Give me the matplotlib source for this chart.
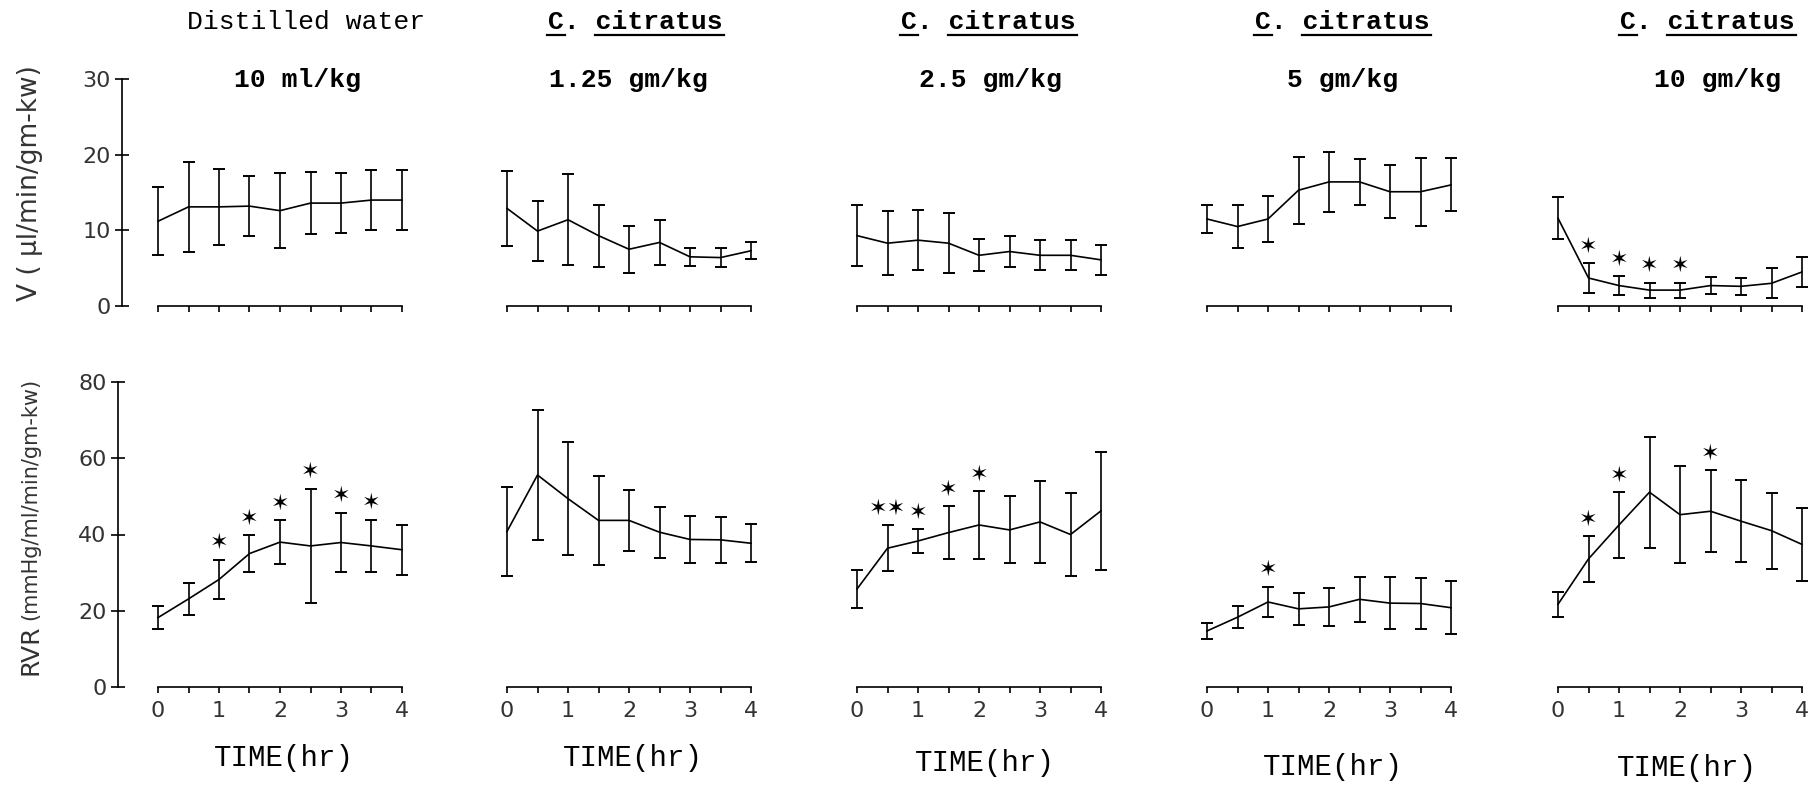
import matplotlib.pyplot as plt
from matplotlib.lines import Line2D

# sampling times (hr)
time_hr = [0, 0.5, 1, 1.5, 2, 2.5, 3, 3.5, 4]

groups = ['Distilled water', 'C. citratus', 'C. citratus', 'C. citratus', 'C. citratus']
doses = ['10 ml/kg', '1.25 gm/kg', '2.5 gm/kg', '5 gm/kg', '10 gm/kg']

# urine flow V (ul/min/gm-kw), mean and SEM
v_water = [11.2, 13.1, 13.1, 13.2, 12.6, 13.6, 13.6, 14.0, 14.0]
v_water_sem = [4.5, 5.9, 5.0, 4.0, 5.0, 4.1, 4.0, 4.0, 4.0]
v_cc125 = [12.9, 9.9, 11.4, 9.3, 7.5, 8.4, 6.5, 6.4, 7.3]
v_cc125_sem = [5.0, 4.0, 6.0, 4.1, 3.1, 3.0, 1.2, 1.2, 1.1]
v_cc25 = [9.3, 8.3, 8.7, 8.3, 6.7, 7.2, 6.7, 6.7, 6.1]
v_cc25_sem = [4.0, 4.2, 4.0, 4.0, 2.1, 2.0, 2.0, 2.0, 2.0]
v_cc5 = [11.5, 10.5, 11.5, 15.3, 16.4, 16.4, 15.1, 15.1, 16.0]
v_cc5_sem = [1.9, 2.9, 3.1, 4.4, 4.0, 3.0, 3.5, 4.5, 3.5]
v_cc10 = [11.6, 3.7, 2.7, 2.1, 2.1, 2.7, 2.6, 3.0, 4.5]
v_cc10_sem = [2.8, 2.0, 1.2, 1.0, 1.0, 1.1, 1.1, 2.0, 2.0]

# renal vascular resistance RVR, mean and SEM
rvr_water = [18.2, 23.1, 28.2, 35.0, 38.0, 37.0, 37.9, 37.0, 36.0]
rvr_water_sem = [3.1, 4.2, 5.2, 4.9, 5.8, 15.0, 7.8, 6.9, 6.5]
rvr_cc125 = [40.8, 55.6, 49.4, 43.7, 43.7, 40.6, 38.7, 38.6, 37.7]
rvr_cc125_sem = [11.7, 17.0, 14.9, 11.7, 8.0, 6.7, 6.2, 6.0, 5.0]
rvr_cc25 = [25.7, 36.4, 38.3, 40.5, 42.5, 41.2, 43.3, 40.0, 46.2]
rvr_cc25_sem = [5.0, 6.0, 3.1, 7.0, 8.9, 8.8, 10.7, 11.0, 15.5]
rvr_cc5 = [14.7, 18.3, 22.3, 20.5, 21.0, 23.0, 22.0, 21.9, 20.8]
rvr_cc5_sem = [2.2, 2.9, 4.0, 4.2, 5.0, 5.9, 6.8, 6.6, 7.0]
rvr_cc10 = [21.7, 33.6, 42.5, 51.1, 45.2, 46.1, 43.5, 41.0, 37.4]
rvr_cc10_sem = [3.3, 6.0, 8.6, 14.6, 12.8, 10.8, 10.8, 10.0, 9.6]

# significance marks at each time point
v_sig_cc10 = ['', '*', '*', '*', '*', '', '', '', '']
rvr_sig_water = ['', '', '*', '*', '*', '*', '*', '*', '']
rvr_sig_cc25 = ['', '**', '*', '*', '*', '', '', '', '']
rvr_sig_cc5 = ['', '', '*', '', '', '', '', '', '']
rvr_sig_cc10 = ['', '*', '*', '', '', '*', '', '', '']
no_sig = [''] * 9

v_means = [v_water, v_cc125, v_cc25, v_cc5, v_cc10]
v_sems = [v_water_sem, v_cc125_sem, v_cc25_sem, v_cc5_sem, v_cc10_sem]
v_sigs = [no_sig, no_sig, no_sig, no_sig, v_sig_cc10]
rvr_means = [rvr_water, rvr_cc125, rvr_cc25, rvr_cc5, rvr_cc10]
rvr_sems = [rvr_water_sem, rvr_cc125_sem, rvr_cc25_sem, rvr_cc5_sem, rvr_cc10_sem]
rvr_sigs = [rvr_sig_water, no_sig, rvr_sig_cc25, rvr_sig_cc5, rvr_sig_cc10]

W, H = 1811, 789
fig = plt.figure(figsize=(W / 100, H / 100), dpi=100)

# layout in pixels
col_left = [158, 507, 857, 1207, 1558]
col_w = 244
title_x = [0.605, 0.527, 0.539, 0.556, 0.613]
dose_x = [0.572, 0.498, 0.547, 0.556, 0.654]
time_x = [284, 633, 985, 1333, 1687]
time_y = [758, 758, 763, 767, 768]

mono = 'Liberation Mono'


def panel(px_left, y0, y1):
    return fig.add_axes([px_left / W, 1 - y0 / H, col_w / W, (y0 - y1) / H])


def style(ax, ymax, yticks, first, xlabels, offset):
    ax.set_xlim(0, 4)
    ax.set_ylim(0, ymax)
    ax.patch.set_alpha(0)
    for s in ['top', 'right']:
        ax.spines[s].set_visible(False)
    ax.spines['bottom'].set_linewidth(1.2)
    ax.set_xticks(time_hr)
    if xlabels:
        ax.set_xticklabels([str(int(t)) if t == int(t) else '' for t in time_hr])
    else:
        ax.set_xticklabels([])
    ax.tick_params(axis='x', direction='out', length=4, width=1.2,
                   labelsize=16, labelcolor='#333333', pad=6)
    if first:
        ax.spines['left'].set_position(('outward', offset))
        ax.spines['left'].set_linewidth(1.2)
        ax.set_yticks(yticks)
        ax.tick_params(axis='y', direction='inout', length=10, width=1.2,
                       labelsize=16, labelcolor='#333333', pad=3)
    else:
        ax.spines['left'].set_visible(False)
        ax.set_yticks([])


def draw(ax, mean, sem, sig):
    eb = ax.errorbar(time_hr, mean, yerr=sem, color='black', lw=1.2,
                     elinewidth=1.2, capsize=4.5, capthick=1.4)
    for a in [eb.lines[0], *eb.lines[1], *eb.lines[2]]:
        a.set_clip_on(False)
    for t, m, s, mark in zip(time_hr, mean, sem, sig):
        if mark:
            ax.annotate('\u2736' * len(mark), xy=(t, m + s), xytext=(0, 12),
                        textcoords='offset points', ha='center', va='center',
                        fontsize=16, family=['DejaVu Sans'], annotation_clip=False)


top_axes = []
for i in range(5):
    ax = panel(col_left[i], 306, 79)
    style(ax, 30, [0, 10, 20, 30], i == 0, False, 26)
    draw(ax, v_means[i], v_sems[i], v_sigs[i])
    top_axes.append(ax)

    bx = panel(col_left[i], 687, 382)
    style(bx, 80, [0, 20, 40, 60, 80], i == 0, True, 29)
    draw(bx, rvr_means[i], rvr_sems[i], rvr_sigs[i])
    fig.text(time_x[i] / W, 1 - time_y[i] / H, 'TIME(hr)', family=mono,
             fontsize=21, ha='center', va='center')

titles = []
for i, ax in enumerate(top_axes):
    weight = 'normal' if i == 0 else 'bold'
    t = ax.text(title_x[i], 1.251, groups[i], transform=ax.transAxes, family=mono,
                fontsize=19, fontweight=weight, ha='center', va='center')
    ax.text(dose_x[i], 0.996, doses[i], transform=ax.transAxes, family=mono,
            fontsize=19, fontweight='bold', ha='center', va='center')
    titles.append(t)

fig.text(30 / W, 1 - 183 / H, 'V ( \u03bcl/min/gm-kw)', rotation=90,
         fontsize=19, ha='center', va='center', color='#333333')
fig.text(30 / W, 1 - 675 / H, 'RVR', rotation=90, fontsize=18,
         ha='center', va='bottom', color='#333333')
fig.text(30 / W, 1 - 620 / H, '(mmHg/ml/min/gm-kw)', rotation=90, fontsize=15,
         ha='center', va='bottom', color='#333333')

# underline the species name ("C." and "citratus")
fig.canvas.draw()
renderer = fig.canvas.get_renderer()
for t in titles:
    s = t.get_text()
    if not s.startswith('C.'):
        continue
    bb = t.get_window_extent(renderer)
    cw = bb.width / len(s)
    y = bb.y0 - 1
    for a, b in [(0, 1), (3, len(s))]:
        fig.add_artist(Line2D([(bb.x0 + a * cw - 1) / W, (bb.x0 + b * cw + 1) / W],
                              [y / H, y / H], transform=fig.transFigure,
                              color='black', lw=1.6))

fig.savefig('out.png', dpi=100)
